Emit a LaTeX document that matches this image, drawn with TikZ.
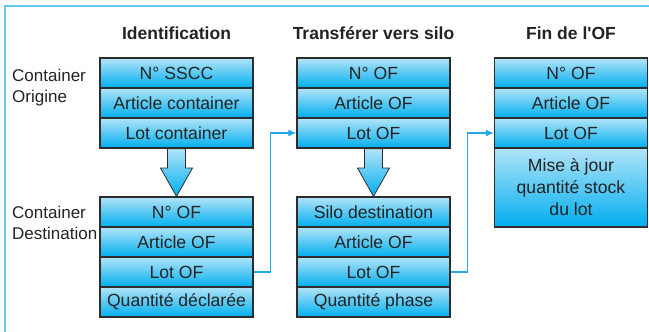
\documentclass[tikz,border=0pt]{standalone}
\usepackage{fontspec}
\setmainfont{Liberation Sans}[Ligatures=TeXOff]
\usetikzlibrary{arrows.meta,calc}
\definecolor{lightb}{RGB}{178,228,248}
\definecolor{cyanb}{RGB}{0,174,239}
\definecolor{framec}{RGB}{100,200,240}
\definecolor{connc}{RGB}{30,170,230}
\definecolor{edgec}{RGB}{45,45,45}
\definecolor{txtc}{RGB}{35,35,35}
\begin{document}
\begin{tikzpicture}[x=1pt,y=-1pt,
  cell/.style={rectangle,draw=edgec,line width=1.2pt,top color=lightb,bottom color=cyanb,
    minimum width=153pt,minimum height=30pt,inner sep=0pt,text=txtc,
    font=\fontsize{17.6}{22}\selectfont,align=center},
  head/.style={text=txtc,font=\fontsize{17.5}{21}\selectfont\bfseries},
  side/.style={text=txtc,font=\fontsize{17}{21}\selectfont,align=left,anchor=west,inner sep=0pt},
  conn/.style={draw=connc,line width=1.3pt,-{Latex[length=8pt,width=7pt]}},
  blockarrow/.style={draw=edgec,line width=0.8pt,top color=lightb,bottom color=cyanb},
  frame/.style={draw=framec,line width=1.5pt}]
\useasboundingbox (0,0) rectangle (649,332);
\draw[frame] (5,332) -- (5,6) -- (649,6);
% headings
\node[head] (h1) at (176.5,33) {Identification};
\node[head] (h2) at (373.5,33) {Transférer vers silo};
\node[head] (h3) at (571,33) {Fin de l'OF};
% side labels
\node[side] (l1) at (12,87.5) {Container\\Origine};
\node[side] (l2) at (12,222.5) {Container\\Destination};
% column 1
\node[cell] (a1) at (176.5,73) {N° SSCC};
\node[cell] (a2) at (176.5,103) {Article container};
\node[cell] (a3) at (176.5,133) {Lot container};
\node[cell] (b1) at (176.5,212) {N° OF};
\node[cell] (b2) at (176.5,242) {Article OF};
\node[cell] (b3) at (176.5,272) {Lot OF};
\node[cell] (b4) at (176.5,302) {Quantité déclarée};
% column 2
\node[cell] (c1) at (373.5,73) {N° OF};
\node[cell] (c2) at (373.5,103) {Article OF};
\node[cell] (c3) at (373.5,133) {Lot OF};
\node[cell] (d1) at (373.5,212) {Silo destination};
\node[cell] (d2) at (373.5,242) {Article OF};
\node[cell] (d3) at (373.5,272) {Lot OF};
\node[cell] (d4) at (373.5,302) {Quantité phase};
% column 3
\node[cell] (e1) at (571,73) {N° OF};
\node[cell] (e2) at (571,103) {Article OF};
\node[cell] (e3) at (571,133) {Lot OF};
\node[cell,minimum height=79pt] (e4) at (571,187.5) {Mise à jour\\quantité stock\\du lot};
% block arrows
\foreach \s/\t in {a3/b1,c3/d1}{
  \path[blockarrow] ([xshift=-9pt]\s.south) -- ([xshift=-9pt]\s.south |- 0,168)
    -- ([xshift=-16pt]\s.south |- 0,168) -- (\t.north)
    -- ([xshift=16pt]\s.south |- 0,168) -- ([xshift=9pt]\s.south |- 0,168)
    -- ([xshift=9pt]\s.south) -- cycle;
}
% connectors
\draw[conn] (b3.east) -- ++(17,0) |- (c3.west);
\draw[conn] (d3.east) -- ++(17,0) |- (e3.west);
\end{tikzpicture}
\end{document}
